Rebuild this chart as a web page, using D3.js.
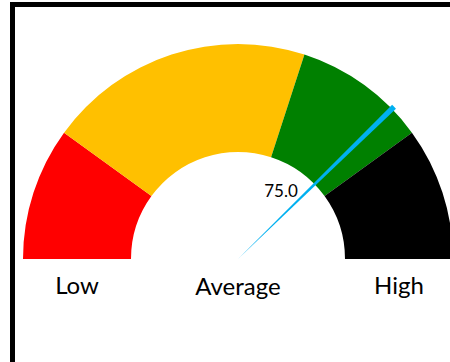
<!DOCTYPE html>
<html>
<head>
<meta charset="utf-8">
<script src="https://cdn.jsdelivr.net/npm/d3@7"></script>
<style>
  html, body { margin: 0; padding: 0; background: #fff; overflow: hidden; }
  svg { display: block; font-family: Lato, "Open Sans", sans-serif; }
</style>
</head>
<body>
<svg id="gauge" width="450" height="362"></svg>
<script>
// gauge bands (share of the half circle) and their colours
const BANDS = ["Low", "Mid-low", "Mid-high", "High"];
const BAND_VALUES = [20, 40, 20, 20];
const BAND_COLORS = ["#FF0000", "#FFC000", "#008000", "#000000"];

// labels under the dial
const SCALE_LABELS = ["Low", "Average", "High"];

// needle
const NEEDLE_VALUE = 75.0;
const NEEDLE_WIDTH = 0.8; // in value units

const svg = d3.select("#gauge");

// frame (left and top edges visible, rest runs off the page)
svg.append("rect")
  .attr("x", 12.5).attr("y", 4.5)
  .attr("width", 600).attr("height", 600)
  .attr("fill", "none")
  .attr("stroke", "#000")
  .attr("stroke-width", 5);

const cx = 238, cy = 259;
const outerR = 215, innerR = 107;

const g = svg.append("g").attr("transform", `translate(${cx},${cy})`);

const total = d3.sum(BAND_VALUES);
const angle = d3.scaleLinear().domain([0, total]).range([-Math.PI / 2, Math.PI / 2]);

const pie = d3.pie()
  .sort(null)
  .value(d => d)
  .startAngle(-Math.PI / 2)
  .endAngle(Math.PI / 2);

const arc = d3.arc().innerRadius(innerR).outerRadius(outerR);

g.selectAll("path.band")
  .data(pie(BAND_VALUES))
  .join("path")
  .attr("class", "band")
  .attr("d", arc)
  .attr("fill", (d, i) => BAND_COLORS[i]);

// needle as a thin wedge from the centre
const needleArc = d3.arc()
  .innerRadius(0)
  .outerRadius(outerR + 3)
  .startAngle(angle(NEEDLE_VALUE))
  .endAngle(angle(NEEDLE_VALUE + NEEDLE_WIDTH));

g.append("path")
  .attr("d", needleArc())
  .attr("fill", "#00B0F0");

// value label
g.append("text")
  .attr("x", 43)
  .attr("y", -62)
  .attr("text-anchor", "middle")
  .attr("font-size", 17)
  .attr("fill", "#000")
  .text(d3.format(".1f")(NEEDLE_VALUE));

// scale labels
const labelX = d3.scalePoint()
  .domain(SCALE_LABELS)
  .range([-(innerR + outerR) / 2, (innerR + outerR) / 2]);

g.selectAll("text.scale")
  .data(SCALE_LABELS)
  .join("text")
  .attr("class", "scale")
  .attr("x", d => labelX(d))
  .attr("y", (d, i) => i === 1 ? 36 : 35)
  .attr("text-anchor", "middle")
  .attr("font-size", 24)
  .attr("fill", "#000")
  .text(d => d);
</script>
</body>
</html>
